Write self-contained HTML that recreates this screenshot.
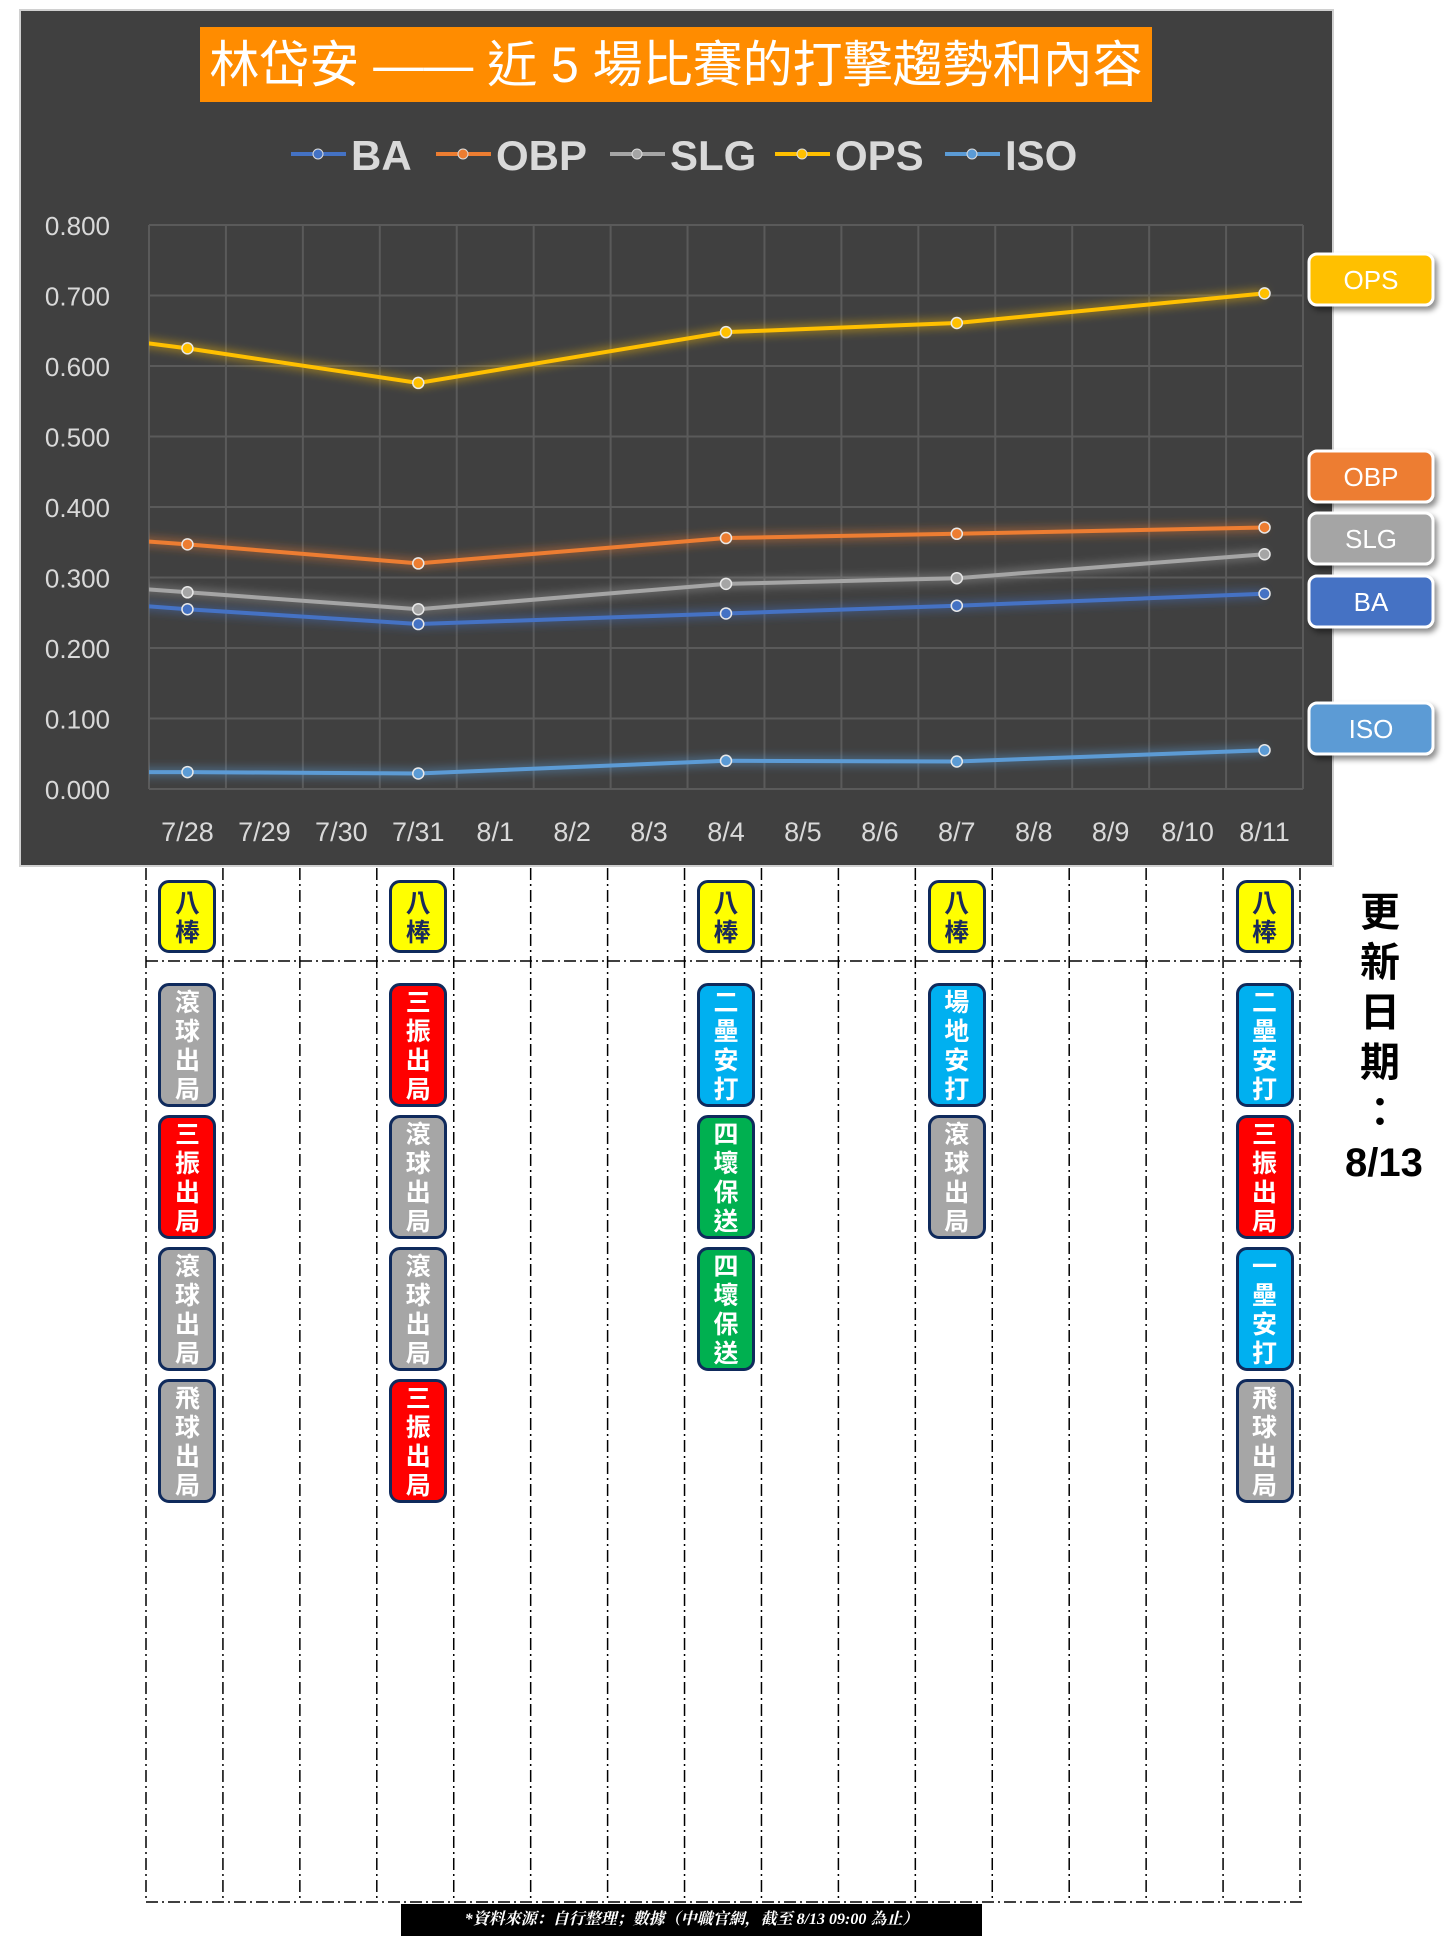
<!DOCTYPE html>
<html><head><meta charset="utf-8">
<style>
body{margin:0;width:1456px;height:1941px;background:#fff;position:relative;overflow:hidden;font-family:"Liberation Sans","Noto Sans CJK TC",sans-serif}
#chart{position:absolute;left:0;top:0}
.box{position:absolute;width:58px;border:3px solid #0f2a5c;border-radius:11px;box-sizing:border-box;display:flex;flex-direction:column;align-items:center;justify-content:center;font-family:"Noto Sans CJK TC",sans-serif;font-weight:bold;font-size:25px;line-height:29px;color:#fff}
.upd{position:absolute;left:1345px;top:888px;width:70px;text-align:center;font-family:"Liberation Sans","Noto Sans CJK TC",sans-serif;font-weight:bold;font-size:40px;line-height:50px;color:#000}
.foot{position:absolute;left:401px;top:1904px;width:581px;height:32px;background:#000;color:#fff;font-family:"Liberation Serif","Noto Serif CJK SC",serif;font-style:italic;font-weight:bold;font-size:16px;line-height:32px;text-align:center}
</style></head><body>
<svg id="chart" width="1456" height="1941">
<defs>
<filter id="glow" x="-10%" y="-50%" width="120%" height="200%"><feGaussianBlur stdDeviation="5" result="b"/><feMerge><feMergeNode in="b"/><feMergeNode in="SourceGraphic"/></feMerge></filter>
<filter id="sh" x="-20%" y="-20%" width="150%" height="160%"><feDropShadow dx="3" dy="4" stdDeviation="3" flood-color="#000" flood-opacity="0.45"/></filter>
<clipPath id="plotclip"><rect x="149" y="200" width="1154" height="600"/></clipPath>
</defs>
<rect x="20" y="10" width="1313" height="856" fill="#404040" stroke="#d0d0d0" stroke-width="2"/>
<rect x="200" y="27" width="952" height="75" fill="#ff8c00"/>
<text x="676" y="82" text-anchor="middle" fill="#fff" font-size="50" font-family="Liberation Sans, Noto Sans CJK TC, sans-serif">林岱安 —— 近 5 場比賽的打擊趨勢和內容</text>
<g id="grid"></g><g id="legend"></g><g id="series" clip-path="url(#plotclip)"></g><g id="labels"></g><g id="bottom"></g>
</svg>
<div id="boxes"></div>
<div class="upd">更<br>新<br>日<br>期<br>：<br>8/13</div>
<div class="foot">*資料來源：自行整理；數據（中職官網，截至 8/13 09:00 為止）</div>
<script>
const categories=["7/28","7/29","7/30","7/31","8/1","8/2","8/3","8/4","8/5","8/6","8/7","8/8","8/9","8/10","8/11"];
const yTicks=[0,0.1,0.2,0.3,0.4,0.5,0.6,0.7,0.8];
const gameIdx=[0,3,7,10,14];
const seriesNames=["BA","OBP","SLG","OPS","ISO"];
const seriesColors=["#4472c4","#ed7d31","#a5a5a5","#ffc000","#5b9bd5"];
const baVals=[0.255,0.234,0.249,0.260,0.277];
const obpVals=[0.347,0.320,0.356,0.362,0.371];
const slgVals=[0.279,0.255,0.291,0.299,0.333];
const opsVals=[0.625,0.576,0.648,0.661,0.703];
const isoVals=[0.024,0.022,0.040,0.039,0.055];
const priorVals=[0.263,0.355,0.287,0.639,0.024];
const events=[["八棒","滾球出局","三振出局","滾球出局","飛球出局"],["八棒","三振出局","滾球出局","滾球出局","三振出局"],["八棒","二壘安打","四壞保送","四壞保送"],["八棒","場地安打","滾球出局"],["八棒","二壘安打","三振出局","一壘安打","飛球出局"]];
const NS="http://www.w3.org/2000/svg";
const X0=149,X1=1303,Y0=789,Y1=225,band=(X1-X0)/categories.length;
const xs=i=>X0+band*(i+0.5);
const ys=v=>Y0-(v/0.8)*(Y0-Y1);
function mk(tag,attrs,parent,txt){const e=document.createElementNS(NS,tag);for(const k in attrs)e.setAttribute(k,attrs[k]);if(txt!==undefined)e.textContent=txt;parent.appendChild(e);return e;}
const grid=document.getElementById('grid'),labels=document.getElementById('labels');
yTicks.forEach(t=>{const l=mk('line',{x1:X0,x2:X1,y1:ys(t),y2:ys(t),stroke:'#5a5a5a','stroke-width':2},grid);


const tx=mk('text',{x:110,y:ys(t)+10,'text-anchor':'end',fill:'#d9d9d9','font-size':26},labels,t.toFixed(3));

});
for(let i=0;i<=categories.length;i++){const l=mk('line',{x1:X0+band*i,x2:X0+band*i,y1:Y1,y2:Y0,stroke:'#5a5a5a','stroke-width':2},grid);

}
categories.forEach((c,i)=>{const tx=mk('text',{x:xs(i),y:841,'text-anchor':'middle',fill:'#d9d9d9','font-size':27},labels,c);

});
// legend
const lg=document.getElementById('legend');
const legX=[291,436,610,775,945],legW=[58,70,58,58,58];
seriesNames.forEach((n,k)=>{const g=mk('g',{},lg);


mk('line',{x1:legX[k],x2:legX[k]+55,y1:154,y2:154,stroke:seriesColors[k],'stroke-width':4},g);
mk('circle',{cx:legX[k]+27,cy:154,r:5,fill:seriesColors[k],stroke:'#ddd','stroke-width':1},g);
mk('text',{x:legX[k]+60,y:170,fill:'#d9d9d9','font-size':42,'font-weight':'bold'},g,n);});
// series
const ser=document.getElementById('series');
[baVals,obpVals,slgVals,opsVals,isoVals].forEach((vals,k)=>{
 let pts=[[xs(-1),ys(priorVals[k])]];
 vals.forEach((v,j)=>pts.push([xs(gameIdx[j]),ys(v)]));
 const p=mk('polyline',{points:pts.map(p=>p.join(',')).join(' '),fill:'none',stroke:seriesColors[k],'stroke-width':4,filter:'url(#glow)'},ser);
 
 
 vals.forEach((v,j)=>{const c=mk('circle',{cx:xs(gameIdx[j]),cy:ys(v),r:5.5,fill:seriesColors[k],stroke:'#e8e8e8','stroke-width':1.5},ser);
 
 });
});
// right tags
const tagY=[254,451,513,576,703],tagOrder=[3,1,2,0,4];
const tagCols=["#ffc000","#ed7d31","#a5a5a5","#4472c4","#5b9bd5"];
tagOrder.forEach((k,i)=>{const g=mk('g',{},labels);


mk('rect',{x:1309,y:tagY[i],width:124,height:51,rx:8,fill:tagCols[i],stroke:'#fff','stroke-width':3,filter:'url(#sh)'},g);
mk('text',{x:1371,y:tagY[i]+35,'text-anchor':'middle',fill:'#fff','font-size':26},g,seriesNames[k]);});
// bottom dashed grid
const bt=document.getElementById('bottom');
for(let i=0;i<=categories.length;i++){const l=mk('line',{x1:X0-3+band*i,x2:X0-3+band*i,y1:868,y2:1902,stroke:'#000','stroke-width':1.5,'stroke-dasharray':'12,4,2,4'},bt);

}
[961,1902].forEach(y=>{const l=mk('line',{x1:146,x2:1305,y1:y,y2:y,stroke:'#000','stroke-width':1.5,'stroke-dasharray':'12,4,2,4'},bt);

});
// event boxes
const colorOf={"八棒":"#ffff00","滾球出局":"#a6a6a6","飛球出局":"#a6a6a6","三振出局":"#ff0000","二壘安打":"#00b0f0","一壘安打":"#00b0f0","場地安打":"#00b0f0","四壞保送":"#00b050"};
const bx=document.getElementById('boxes');
events.forEach((list,g)=>{list.forEach((ev,r)=>{
 const d=document.createElement('div');
 d.className='box';
 
 
 d.style.left=(xs(gameIdx[g])-29)+'px';
 d.style.top=(r===0?880:983+(r-1)*132)+'px';
 d.style.height=(r===0?73:124)+'px';
 d.style.background=colorOf[ev];
 if(r===0)d.style.color='#1a2a5c';
 d.innerHTML=ev.split('').map(c=>'<span>'+c+'</span>').join('');
 bx.appendChild(d);
});});
</script>
</body></html>
